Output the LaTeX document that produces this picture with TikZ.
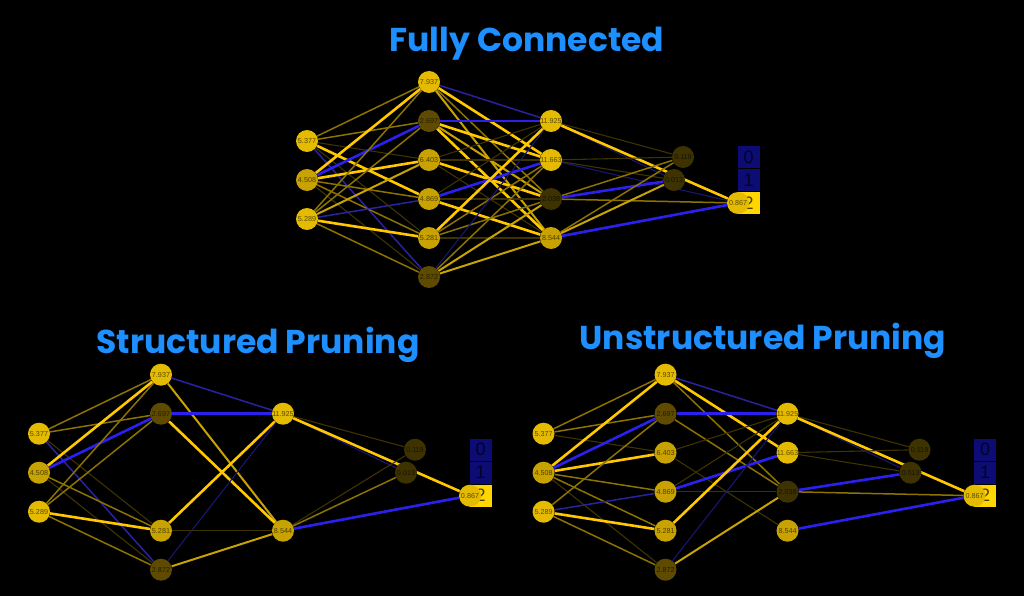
\documentclass[tikz,border=0pt]{standalone}
\usepackage{fontspec}
\setmainfont{Liberation Sans}
\newfontfamily\ttlfont{Poppins}
\pgfdeclarelayer{bg}
\pgfsetlayers{bg,main}

\definecolor{nodeA}{HTML}{E4BB00}
\definecolor{nodeB}{HTML}{C7A200}
\definecolor{nodeC}{HTML}{5E4B00}
\definecolor{nodeD}{HTML}{3D3200}
\definecolor{edgeYa}{HTML}{FFC800}
\definecolor{edgeYb}{HTML}{C9A300}
\definecolor{edgeYc}{HTML}{8C7200}
\definecolor{edgeYd}{HTML}{3E3300}
\definecolor{edgeBa}{HTML}{2C20EE}
\definecolor{edgeBb}{HTML}{2A22A0}
\definecolor{edgeBc}{HTML}{1A1570}
\definecolor{clsblue}{HTML}{0C0C74}
\definecolor{clsyel}{HTML}{FFD600}
\definecolor{ttlblue}{HTML}{1E8FFF}

\tikzset{
  neu/.style={circle,minimum size=22pt,inner sep=0pt,font=\fontsize{7.2}{7}\selectfont,text=black,text opacity=.6},
  nA/.style={neu,fill=nodeA}, nB/.style={neu,fill=nodeB},
  nC/.style={neu,fill=nodeC}, nD/.style={neu,fill=nodeD},
  pw/.style={draw=edgeYa,line width=2.6pt}, pm/.style={draw=edgeYb,line width=2pt},
  pl/.style={draw=edgeYc,line width=1.5pt}, pf/.style={draw=edgeYd,line width=1.1pt},
  nw/.style={draw=edgeBa,line width=2.6pt}, nm/.style={draw=edgeBb,line width=1.5pt},
  nf/.style={draw=edgeBc,line width=1.1pt},
  cls/.style={draw=black,line width=.6pt,minimum width=23pt,minimum height=23pt,inner sep=0pt,
    font=\fontsize{18}{18}\selectfont,text=black,text opacity=.7},
  ttl/.style={anchor=base,text=ttlblue,font=\ttlfont\bfseries\fontsize{33}{33}\selectfont}
}

% node lists: name/x/y/value/style
\def\nodesFC{a1/307/141/5.377/nA, a2/307/180/4.508/nB, a3/307/219/5.289/nA,
  h1/429/82/7.937/nA, h2/429/121/2.697/nC, h3/429/160/6.403/nB, h4/429/199/4.869/nB,
  h5/429/238/5.281/nB, h6/429/277/2.872/nC,
  g1/551/121/11.925/nA, g2/551/160/11.663/nA, g3/551/199/2.038/nD, g4/551/238/8.544/nB,
  o1/683/157/0.119/nD, o2/674/180/0.013/nD, o3/738/203/0.867/nA}
\def\nodesSP{a1/307/141/5.377/nA, a2/307/180/4.508/nB, a3/307/219/5.289/nA,
  h1/429/82/7.937/nA, h2/429/121/2.697/nC, h5/429/238/5.281/nB, h6/429/277/2.872/nC,
  g1/551/121/11.925/nA, g4/551/238/8.544/nB,
  o1/683/157/0.119/nD, o2/674/180/0.013/nD, o3/738/203/0.867/nA}

% edge lists: from/to/style
\def\edgesFC{a1/h1/pl, a1/h2/pl, a1/h3/pf, a1/h4/pw, a1/h5/pf, a1/h6/nm,
  a2/h1/pw, a2/h2/nw, a2/h3/pw, a2/h4/pl, a2/h5/pl, a2/h6/pf,
  a3/h1/pl, a3/h2/pl, a3/h3/pm, a3/h4/nm, a3/h5/pw, a3/h6/pl,
  h1/g1/nm, h1/g2/pw, h1/g3/pl, h1/g4/pm,
  h2/g1/nw, h2/g2/pw, h2/g3/pm, h2/g4/pw,
  h3/g1/pf, h3/g2/pf, h3/g3/pw, h3/g4/pf,
  h4/g1/pf, h4/g2/nw, h4/g3/pf, h4/g4/pw,
  h5/g1/pw, h5/g2/pl, h5/g3/pl, h5/g4/pf,
  h6/g1/nf, h6/g2/pl, h6/g3/pm, h6/g4/pm,
  g1/o1/pf, g1/o2/nf, g1/o3/pw, g2/o1/pf, g2/o2/pf, g2/o3/nf,
  g3/o1/pl, g3/o2/nw, g3/o3/pl, g4/o1/pl, g4/o2/pm, g4/o3/nw}
\def\edgesSP{a1/h1/pl, a1/h2/pl, a1/h5/pf, a1/h6/nm,
  a2/h1/pw, a2/h2/nw, a2/h5/pl, a2/h6/pf,
  a3/h1/pl, a3/h2/pl, a3/h5/pw, a3/h6/pl,
  h1/g1/nm, h1/g4/pm, h2/g1/nw, h2/g4/pw,
  h5/g1/pw, h5/g4/pf, h6/g1/nf, h6/g4/pm,
  g1/o1/pf, g1/o2/nf, g1/o3/pw, g4/o1/pf, g4/o2/pl, g4/o3/nw}
\def\edgesUP{a1/h1/pl, a1/h2/pl, a1/h3/pf,
  a2/h1/pw, a2/h2/nw, a2/h3/pw, a2/h4/pl, a2/h5/pl, a2/h6/pf,
  a3/h2/pl, a3/h4/nm, a3/h5/pw, a3/h6/pl,
  h1/g1/nm, h1/g2/pw, h1/g3/pl, h2/g1/nw, h2/g3/pl,
  h3/g1/pf, h3/g4/pf, h4/g1/pf, h4/g2/nw, h4/g3/pf,
  h5/g1/pw, h6/g1/nf, h6/g3/pm,
  g1/o1/pf, g1/o2/nf, g1/o3/pw, g2/o1/pf, g2/o2/pf,
  g3/o2/nw, g3/o3/pl, g4/o3/nw}

\newcommand{\netpanel}[4]{%
  \begin{scope}[shift={#2}]
    \node[cls,fill=clsblue] (#1c0) at (748.5,157) {0};
    \node[cls,fill=clsblue] (#1c1) at (748.5,180) {1};
    \node[cls,fill=clsyel] (#1c2) at (748.5,203) {2};
    \foreach \n/\x/\y/\v/\s in #3
      \node[\s] (#1\n) at (\x,\y) {\v};
    \begin{pgfonlayer}{bg}
      \foreach \u/\w/\s in #4
        \draw[\s] (#1\u) -- (#1\w);
    \end{pgfonlayer}
  \end{scope}}

\begin{document}
\begin{tikzpicture}[x=1pt,y=-1pt]
\begin{pgfonlayer}{bg}
  \fill[black] (0,0) rectangle (1024,596);
\end{pgfonlayer}

\node[ttl] (tFC) at (527,52) {Fully Connected};
\node[ttl] (tSP) at (258,353) {Structured Pruning};
\node[ttl] (tUP) at (763,349) {Unstructured Pruning};

\netpanel{fc}{(0,0)}{\nodesFC}{\edgesFC}
\netpanel{sp}{(-268,292.7)}{\nodesSP}{\edgesSP}
\netpanel{up}{(236.5,292.7)}{\nodesFC}{\edgesUP}
\end{tikzpicture}
\end{document}
